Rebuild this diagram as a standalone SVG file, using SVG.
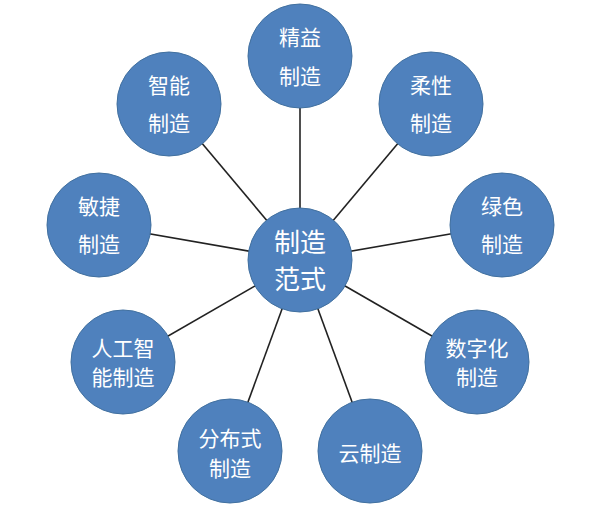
<svg xmlns="http://www.w3.org/2000/svg" width="600" height="508" viewBox="0 0 600 508">
<style>
.n circle{fill:#4f81bd;stroke:#41709f;stroke-width:1}
.n text{fill:#fff;font-family:"Noto Sans CJK SC","Noto Sans CJK JP",sans-serif;font-size:21px;text-anchor:middle;dominant-baseline:central}
.n text.big{font-size:26px}
.c line{stroke:#222;stroke-width:1.6}
</style>
<rect width="600" height="508" fill="#fff"/>
<g id="connectors" class="c">
<line x1="300" y1="260" x2="300" y2="56"/>
<line x1="300" y1="260" x2="169" y2="104"/>
<line x1="300" y1="260" x2="431" y2="104"/>
<line x1="300" y1="260" x2="99" y2="225"/>
<line x1="300" y1="260" x2="502" y2="225"/>
<line x1="300" y1="260" x2="123" y2="362"/>
<line x1="300" y1="260" x2="477" y2="362"/>
<line x1="300" y1="260" x2="230" y2="451"/>
<line x1="300" y1="260" x2="370" y2="451"/>
</g>
<g id="center" class="n"><circle cx="300" cy="260" r="52"/><text class="big" x="300" y="240">制造</text><text class="big" x="300" y="277">范式</text></g>
<g id="jingyi" class="n"><circle cx="300" cy="56" r="52"/><text x="300" y="36">精益</text><text x="300" y="75">制造</text></g>
<g id="zhineng" class="n"><circle cx="169" cy="104" r="52"/><text x="169" y="84">智能</text><text x="169" y="122">制造</text></g>
<g id="rouxing" class="n"><circle cx="431" cy="104" r="52"/><text x="431" y="84">柔性</text><text x="431" y="122">制造</text></g>
<g id="minjie" class="n"><circle cx="99" cy="225" r="52"/><text x="99" y="205">敏捷</text><text x="99" y="243">制造</text></g>
<g id="lvse" class="n"><circle cx="502" cy="225" r="52"/><text x="502" y="205">绿色</text><text x="502" y="243">制造</text></g>
<g id="rengong" class="n"><circle cx="123" cy="362" r="52"/><text x="123" y="347">人工智</text><text x="123" y="376">能制造</text></g>
<g id="shuzihua" class="n"><circle cx="477" cy="362" r="52"/><text x="477" y="347">数字化</text><text x="477" y="376">制造</text></g>
<g id="fenbushi" class="n"><circle cx="230" cy="451" r="52"/><text x="230" y="437">分布式</text><text x="230" y="467">制造</text></g>
<g id="yun" class="n"><circle cx="370" cy="451" r="52"/><text x="370" y="452">云制造</text></g>
</svg>
